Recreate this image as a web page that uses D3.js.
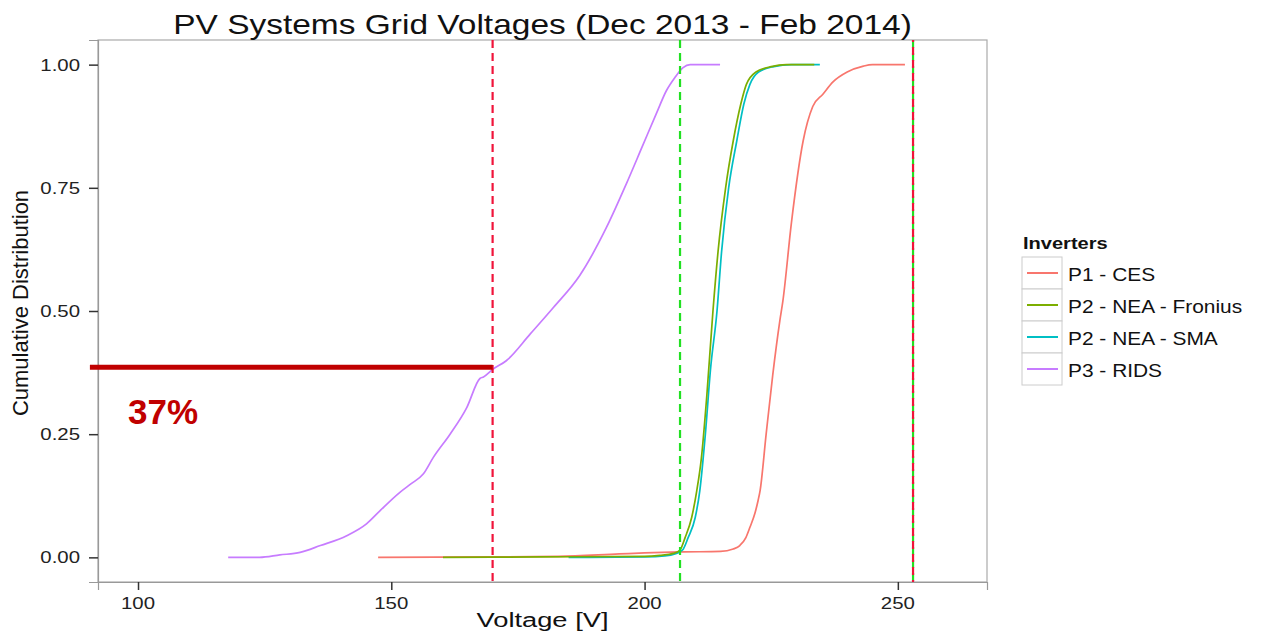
<!DOCTYPE html>
<html>
<head>
<meta charset="utf-8">
<script src="https://cdn.jsdelivr.net/npm/d3@7"></script>
<style>
  body { margin: 0; background: #fff; }
  svg text { font-family: "Liberation Sans", Arial, sans-serif; }
</style>
</head>
<body>
<div id="plot"></div>
<script>
// values
const voltTicks = [100, 150, 200, 250];
const cdfTicks = [0, 0.25, 0.5, 0.75, 1];
const seriesNames = ["P1 - CES", "P2 - NEA - Fronius", "P2 - NEA - SMA", "P3 - RIDS"];
const seriesColors = ["#F8766D", "#7CAE00", "#00BFC4", "#C77CFF"];

const cesV = [147.4, 170, 183, 195, 200, 207, 215, 217.5, 218.8, 220, 220.8, 221.8, 222.4, 222.8, 224, 225.3, 226.7, 227.3, 229, 231.3, 233.2, 235.2, 237.2, 240, 243.2, 245, 251.4];
const cesF = [0, 0.001, 0.002, 0.007, 0.009, 0.011, 0.012, 0.017, 0.024, 0.04, 0.061, 0.09, 0.115, 0.135, 0.25, 0.37, 0.48, 0.52, 0.68, 0.845, 0.915, 0.94, 0.965, 0.985, 0.997, 1, 1];

const froniusV = [160.2, 180, 200, 203, 205.7, 207, 208, 209.3, 210.3, 211.2, 212.3, 213.5, 214.5, 216, 217.5, 219, 220.1, 222, 225, 228, 233.5];
const froniusF = [0, 0.001, 0.002, 0.004, 0.008, 0.015, 0.04, 0.081, 0.135, 0.2, 0.33, 0.5, 0.62, 0.75, 0.845, 0.92, 0.96, 0.985, 0.996, 1, 1];

const smaV = [185, 200, 204, 206, 207.5, 208.6, 210, 210.9, 212, 213, 214.3, 215.2, 216.6, 218.2, 219.6, 220.8, 222.5, 225.5, 229, 234.6];
const smaF = [0, 0.001, 0.003, 0.007, 0.015, 0.04, 0.081, 0.135, 0.25, 0.38, 0.5, 0.62, 0.75, 0.845, 0.92, 0.96, 0.985, 0.996, 1, 1];

const ridsV = [117.8, 124, 128, 132, 136, 141.2, 145.1, 147.8, 151.7, 154, 156.3, 158.3, 161.6, 164.9, 167.5, 168.2, 170.1, 172.7, 177.4, 182, 187.2, 192.5, 196.4, 199.6, 202.3, 204.3, 206, 207.6, 209, 214.9];
const ridsF = [0, 0, 0.005, 0.01, 0.024, 0.044, 0.068, 0.095, 0.132, 0.15, 0.169, 0.203, 0.25, 0.304, 0.363, 0.366, 0.382, 0.399, 0.453, 0.507, 0.572, 0.67, 0.758, 0.835, 0.9, 0.947, 0.974, 0.994, 1, 1];

// reference lines
const redLines = [170, 253];
const greenLines = [207, 253];
const markV = [90.5, 170];   // thick marker from left edge to 170 V
const markF = 0.386;
const markLabel = "37%";

const width = 1265, height = 637;
const margin = { top: 40, right: 278, bottom: 55, left: 98 };

const svg = d3.select("#plot").append("svg")
  .attr("width", width)
  .attr("height", height);

const x = d3.scaleLinear().domain([92.1, 267.6]).range([margin.left, width - margin.right]);
const y = d3.scaleLinear().domain([-0.05, 1.05]).range([height - margin.bottom, margin.top]);

// text stretched sideways a bit, like the picture
function stretchText(g, px, py, txt, size, sx, anchor, weight) {
  return g.append("text")
    .attr("transform", `translate(${px},${py}) scale(${sx},1)`)
    .attr("text-anchor", anchor || "start")
    .style("font-size", size + "px")
    .style("font-weight", weight || "normal")
    .attr("fill", "#111")
    .text(txt);
}

// panel
svg.append("rect")
  .attr("x", x.range()[0]).attr("y", y.range()[1])
  .attr("width", x.range()[1] - x.range()[0])
  .attr("height", y.range()[0] - y.range()[1])
  .attr("fill", "#fff")
  .attr("stroke", "#aaa")
  .attr("stroke-width", 1.2);

// axes
const xAxis = svg.append("g")
  .attr("transform", `translate(0,${y.range()[0]})`)
  .call(d3.axisBottom(x).tickValues(voltTicks).tickSize(8).tickFormat(""));
const yAxis = svg.append("g")
  .attr("transform", `translate(${x.range()[0]},0)`)
  .call(d3.axisLeft(y).tickValues(cdfTicks).tickSize(9).tickFormat(""));
[xAxis, yAxis].forEach(a => {
  a.select(".domain").attr("stroke", "#999").attr("stroke-width", 1.2);
  a.selectAll(".tick line").attr("stroke", "#333").attr("stroke-width", 1.5);
});

voltTicks.forEach(v => stretchText(svg, x(v), y.range()[0] + 27, v, 17, 1.2, "middle").attr("fill", "#222"));
cdfTicks.forEach(v => stretchText(svg, x.range()[0] - 18, y(v) + 6, d3.format(".2f")(v), 17, 1.2, "end").attr("fill", "#222"));

// curves
const line = d3.line().x(d => x(d[0])).y(d => y(d[1])).curve(d3.curveMonotoneX);
const curves = [
  [cesV, cesF, 0],
  [smaV, smaF, 2],
  [froniusV, froniusF, 1],
  [ridsV, ridsF, 3]
];
curves.forEach(([vs, fs, i]) => {
  svg.append("path")
    .datum(vs.map((v, k) => [v, fs[k]]))
    .attr("d", line)
    .attr("fill", "none")
    .attr("stroke", seriesColors[i])
    .attr("stroke-width", 1.7);
});

// dashed reference lines
greenLines.forEach(v => {
  svg.append("line")
    .attr("x1", x(v)).attr("x2", x(v))
    .attr("y1", y.range()[1]).attr("y2", y.range()[0])
    .attr("stroke", "#22e022").attr("stroke-width", 2.2)
    .attr("stroke-dasharray", "8,5");
});
redLines.forEach(v => {
  svg.append("line")
    .attr("x1", x(v)).attr("x2", x(v))
    .attr("y1", y.range()[1]).attr("y2", y.range()[0])
    .attr("stroke", "#f0143a").attr("stroke-width", 2.2)
    .attr("stroke-dasharray", "8,5")
    .attr("stroke-dashoffset", v === 253 ? 6 : 0);
});

// thick marker and label
svg.append("line")
  .attr("x1", x(markV[0])).attr("x2", x(markV[1]))
  .attr("y1", y(markF)).attr("y2", y(markF))
  .attr("stroke", "#c00000").attr("stroke-width", 5);
svg.append("text")
  .attr("x", 128).attr("y", 424)
  .style("font-size", "35px").style("font-weight", "bold")
  .attr("fill", "#c00000")
  .text(markLabel);

// titles
stretchText(svg, (x.range()[0] + x.range()[1]) / 2, 34, "PV Systems Grid Voltages (Dec 2013 - Feb 2014)", 27, 1.24, "middle");
stretchText(svg, (x.range()[0] + x.range()[1]) / 2, 627, "Voltage [V]", 21, 1.3, "middle");
svg.append("text")
  .attr("transform", `translate(28,${(y.range()[0] + y.range()[1]) / 2 - 8}) rotate(-90)`)
  .attr("text-anchor", "middle")
  .style("font-size", "22px")
  .attr("fill", "#111")
  .text("Cumulative Distribution");

// legend
const legend = svg.append("g").attr("transform", "translate(1022,257)");
stretchText(legend, 1, -8, "Inverters", 17, 1.18, "start", "bold");
seriesNames.forEach((name, i) => {
  const row = legend.append("g").attr("transform", `translate(0,${i * 32})`);
  row.append("rect")
    .attr("width", 40).attr("height", 32)
    .attr("fill", "#fff").attr("stroke", "#ccc").attr("stroke-width", 1);
  row.append("line")
    .attr("x1", 5).attr("x2", 36).attr("y1", 16).attr("y2", 16)
    .attr("stroke", seriesColors[i]).attr("stroke-width", 2);
  stretchText(row, 46, 24, name, 19, 1.1, "start").attr("fill", "#111");
});
</script>
</body>
</html>
